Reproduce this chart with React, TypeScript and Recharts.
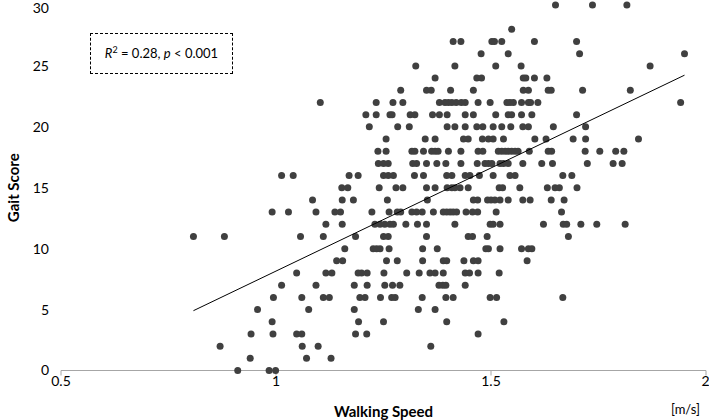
import { ScatterChart, Scatter, XAxis, YAxis } from 'recharts';

// gait score levels (integer scores) and the walking speeds observed at each
const scores = [30, 28, 27, 26, 25, 24, 23, 22, 21, 20, 19, 18, 17, 16, 15, 14, 13, 12, 11, 10, 9, 8, 7, 6, 5, 4, 3, 2, 1, 0];
const speedsByScore: number[][] = [
  [1.65, 1.736, 1.816],
  [1.548],
  [1.412, 1.43, 1.502, 1.508, 1.525, 1.601, 1.699],
  [1.477, 1.54, 1.706, 1.95],
  [1.325, 1.416, 1.511, 1.57, 1.87],
  [1.37, 1.467, 1.478, 1.575, 1.581, 1.601, 1.63],
  [1.29, 1.35, 1.361, 1.406, 1.459, 1.575, 1.587, 1.633, 1.64, 1.713, 1.824],
  [1.103, 1.233, 1.272, 1.295, 1.38, 1.393, 1.401, 1.409, 1.419, 1.431, 1.44, 1.47, 1.498, 1.537, 1.544, 1.552, 1.571, 1.587, 1.592, 1.609, 1.941],
  [1.209, 1.233, 1.265, 1.27, 1.312, 1.323, 1.364, 1.38, 1.398, 1.44, 1.459, 1.511, 1.54, 1.548, 1.571, 1.595, 1.699],
  [1.217, 1.283, 1.31, 1.398, 1.416, 1.44, 1.467, 1.481, 1.505, 1.525, 1.546, 1.574, 1.587, 1.645, 1.72],
  [1.256, 1.347, 1.37, 1.436, 1.447, 1.48, 1.494, 1.505, 1.529, 1.602, 1.628, 1.691, 1.72, 1.843],
  [1.237, 1.256, 1.316, 1.323, 1.343, 1.362, 1.37, 1.377, 1.401, 1.43, 1.47, 1.481, 1.517, 1.525, 1.533, 1.54, 1.548, 1.556, 1.563, 1.589, 1.633, 1.641, 1.719, 1.753, 1.79, 1.809],
  [1.238, 1.25, 1.261, 1.318, 1.327, 1.35, 1.374, 1.395, 1.43, 1.468, 1.486, 1.494, 1.502, 1.521, 1.529, 1.54, 1.574, 1.618, 1.643, 1.724, 1.784, 1.805],
  [1.013, 1.04, 1.17, 1.191, 1.25, 1.261, 1.273, 1.322, 1.343, 1.397, 1.409, 1.44, 1.451, 1.473, 1.505, 1.544, 1.556, 1.667, 1.688],
  [1.153, 1.167, 1.24, 1.279, 1.295, 1.35, 1.37, 1.398, 1.409, 1.416, 1.428, 1.447, 1.519, 1.527, 1.567, 1.631, 1.649, 1.659, 1.7],
  [1.085, 1.154, 1.18, 1.259, 1.352, 1.459, 1.469, 1.492, 1.5, 1.509, 1.521, 1.54, 1.574, 1.591, 1.64, 1.67],
  [0.991, 1.029, 1.093, 1.137, 1.15, 1.223, 1.263, 1.282, 1.29, 1.316, 1.327, 1.34, 1.366, 1.389, 1.397, 1.405, 1.412, 1.42, 1.442, 1.457, 1.469, 1.512, 1.664],
  [1.116, 1.154, 1.23, 1.242, 1.253, 1.265, 1.273, 1.302, 1.329, 1.35, 1.416, 1.498, 1.505, 1.521, 1.622, 1.668, 1.676, 1.709, 1.746, 1.812],
  [0.808, 0.88, 1.057, 1.11, 1.185, 1.25, 1.261, 1.35, 1.447, 1.457, 1.491, 1.68],
  [1.16, 1.226, 1.234, 1.242, 1.263, 1.341, 1.375, 1.488, 1.494, 1.521, 1.571, 1.587, 1.595],
  [1.141, 1.155, 1.257, 1.282, 1.341, 1.389, 1.397, 1.437, 1.459, 1.47, 1.584],
  [1.048, 1.116, 1.13, 1.191, 1.199, 1.212, 1.251, 1.304, 1.333, 1.358, 1.37, 1.389, 1.44, 1.45, 1.47, 1.519],
  [1.013, 1.093, 1.182, 1.212, 1.253, 1.271, 1.288, 1.379, 1.388, 1.395, 1.44],
  [0.994, 1.06, 1.11, 1.124, 1.195, 1.207, 1.243, 1.269, 1.277, 1.34, 1.395, 1.412, 1.498, 1.513, 1.667],
  [0.957, 1.076, 1.182, 1.331, 1.37],
  [0.991, 1.192, 1.25, 1.397, 1.53],
  [0.942, 0.993, 1.048, 1.06, 1.185, 1.211, 1.47],
  [0.87, 1.061, 1.098, 1.36],
  [0.94, 1.071, 1.128],
  [0.911, 0.984, 0.999],
];

// end points of the fitted line
const fitSpeed = [0.808, 1.95];
const fitScore = [4.91, 24.24];

const xTicks = [0.5, 1, 1.5, 2];
const yTicks = [0, 5, 10, 15, 20, 25, 30];

const points = scores.flatMap((s, i) => speedsByScore[i].map((x) => ({ x, y: s })));
const fitLine = fitSpeed.map((x, i) => ({ x, y: fitScore[i] }));

const font = 'Lato, "Open Sans", sans-serif';

export default function App() {
  return (
    <div style={{ position: 'absolute', left: 0, top: 0, width: 709, height: 420, background: '#fff', fontFamily: font }}>
      <ScatterChart width={709} height={420} margin={{ top: 5, right: 3, left: 0, bottom: 0 }}>
        <XAxis
          type="number"
          dataKey="x"
          domain={[0.5, 2]}
          ticks={xTicks}
          height={49.5}
          stroke="#a6a6a6"
          tickSize={5}
          tickMargin={1}
          tick={{ fill: '#000', fontSize: 14, fontFamily: font }}
          label={{
            value: 'Walking Speed',
            position: 'insideBottom',
            offset: 3,
            style: { fill: '#000', fontSize: 15, fontWeight: 700, fontFamily: font },
          }}
        />
        <YAxis
          type="number"
          dataKey="y"
          domain={[0, 30]}
          ticks={yTicks}
          width={61}
          axisLine={false}
          tickLine={false}
          tickSize={0}
          tickMargin={12}
          tick={{ fill: '#000', fontSize: 14, fontFamily: font }}
          label={{
            value: 'Gait Score',
            angle: -90,
            position: 'insideLeft',
            offset: 14,
            style: { textAnchor: 'middle', fill: '#000', fontSize: 15, fontWeight: 700, fontFamily: font },
          }}
        />
        <Scatter
          data={points}
          isAnimationActive={false}
          shape={(p: any) => <circle cx={p.cx} cy={p.cy} r={3.5} fill="#404040" />}
        />
        <Scatter
          data={fitLine}
          isAnimationActive={false}
          line={{ stroke: '#000', strokeWidth: 1 }}
          shape={() => <g />}
        />
      </ScatterChart>
      <div
        style={{
          position: 'absolute',
          left: 90,
          top: 33,
          width: 141,
          height: 39,
          border: '1px dashed #000',
          background: '#fff',
          fontSize: 13,
          lineHeight: '39px',
          textAlign: 'center',
          color: '#000',
        }}
      >
        <i>R</i>
        <sup style={{ fontSize: 9, lineHeight: 0 }}>2</sup> = 0.28, <i>p</i> &lt; 0.001
      </div>
      <div style={{ position: 'absolute', left: 671, top: 401, fontSize: 13, color: '#000' }}>[m/s]</div>
    </div>
  );
}
